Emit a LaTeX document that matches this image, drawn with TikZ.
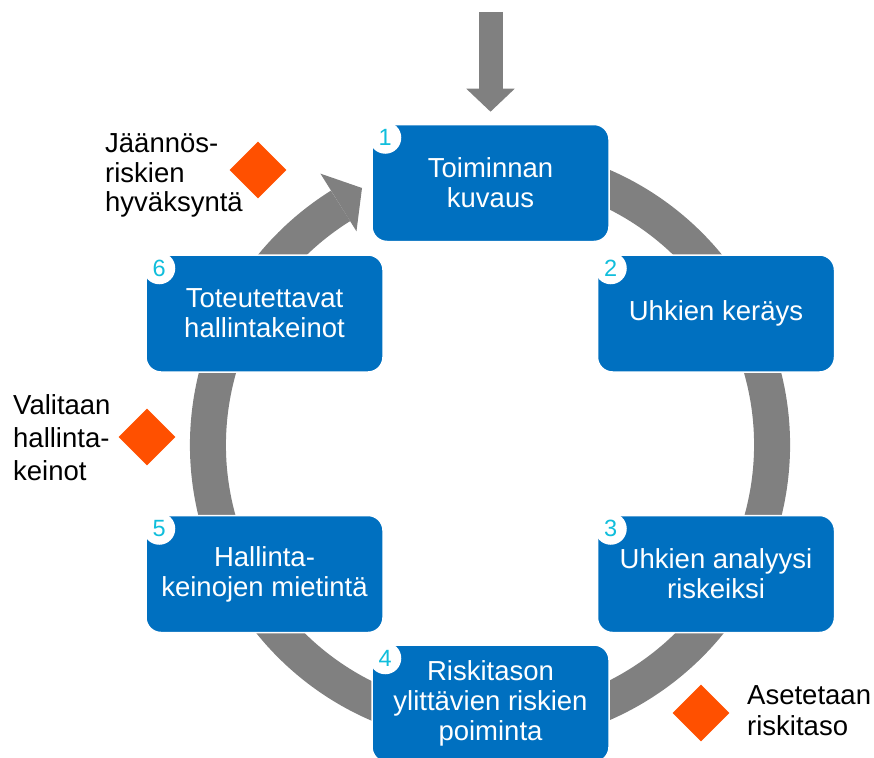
\documentclass[tikz,border=0pt]{standalone}
\usepackage{fontspec}
\setmainfont{Liberation Sans}
\usetikzlibrary{shapes.geometric,arrows.meta}
\definecolor{boxblue}{HTML}{0070C0}
\definecolor{ringgray}{HTML}{808080}
\definecolor{riskorange}{HTML}{FF5000}
\definecolor{numcyan}{HTML}{10BEDC}
\begin{document}
\begin{tikzpicture}[x=1pt,y=-1pt,
  stepbox/.style={fill=boxblue, draw=white, line width=1.5pt, rounded corners=15pt,
    minimum width=237pt, minimum height=117pt, inner sep=0pt, text=white,
    align=center, font=\fontsize{27.5}{30}\selectfont},
  numdot/.style={circle, fill=white, minimum size=32pt, inner sep=0pt,
    text=numcyan, font=\fontsize{23.5}{23.5}\selectfont},
  riskdiamond/.style={diamond, fill=riskorange, minimum width=57pt, minimum height=57pt, inner sep=0pt},
  note/.style={anchor=north west, inner sep=0pt, align=left, text=black}
]
\useasboundingbox (0,0) rectangle (874,757);

\coordinate (c) at (490,445);
% ring with arrow
\draw[ringgray, line width=36pt] (c) ++(-75:282) arc[start angle=-75, end angle=238, radius=282];
\fill[ringgray] ([shift={(238:320)}]c) -- (362,188) -- ([shift={(238:252)}]c) -- cycle;

% steps
\node[stepbox] (s1) at (490.5,183) {Toiminnan\\kuvaus};
\node[stepbox] (s2) at (716,313.5) {Uhkien keräys};
\node[stepbox] (s3) at (716,574) {Uhkien analyysi\\riskeiksi};
\node[stepbox] (s4) at (490.5,703.5) {Riskitason\\ylittävien riskien\\poiminta};
\node[stepbox] (s5) at (264.5,574) {Hallinta-\\keinojen mietintä};
\node[stepbox] (s6) at (264.5,313.5) {Toteutettavat\\hallintakeinot};

\foreach \i in {1,...,6}{
  \node[numdot] (n\i) at ([shift={(14,14)}]s\i.north west) {\i};
}

% incoming arrow
\coordinate (topin) at (490.5,12);
\draw[ringgray, line width=24pt, -{Triangle[width=47pt,length=23pt]}, shorten >=12pt] (topin) -- (s1.north);

% diamonds
\node[riskdiamond] (d1) at (258,170) {};
\node[riskdiamond] (d2) at (147,437) {};
\node[riskdiamond] (d3) at (701,713) {};

% labels
\node[note, font=\fontsize{27.5}{29.5}\selectfont] (t1) at (105,133.5) {Jäännös-\\riskien\\hyväksyntä};
\node[note, font=\fontsize{27.5}{33}\selectfont] (t2) at (13,394.5) {Valitaan\\hallinta-\\keinot};
\node[note, font=\fontsize{27.5}{31}\selectfont] (t3) at (747,685.5) {Asetetaan\\riskitaso};
\end{tikzpicture}
\end{document}
